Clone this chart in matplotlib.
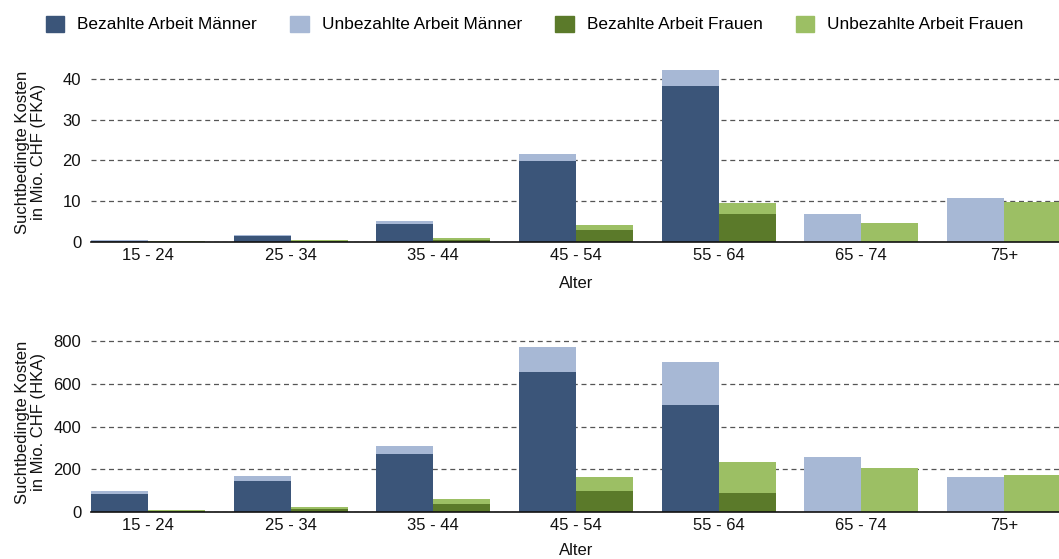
import matplotlib.pyplot as plt
from matplotlib.patches import Patch
import numpy as np

plt.rcParams['font.family'] = ['Liberation Sans', 'DejaVu Sans']

# Altersgruppen
alter = ["15 - 24", "25 - 34", "35 - 44", "45 - 54", "55 - 64", "65 - 74", "75+"]

# FKA (Mio. CHF)
fka_bez_m = [0.3, 1.4, 4.5, 19.8, 38.2, 0.0, 0.0]
fka_unbez_m = [0.15, 0.4, 0.6, 1.8, 3.8, 6.8, 10.8]
fka_bez_f = [0.1, 0.2, 0.6, 2.9, 6.8, 0.0, 0.0]
fka_unbez_f = [0.1, 0.2, 0.4, 1.2, 2.7, 4.75, 9.8]

# HKA (Mio. CHF)
hka_bez_m = [87, 148, 272, 656, 501, 0, 0]
hka_unbez_m = [14, 23, 39, 117, 199, 260, 165]
hka_bez_f = [7, 15, 40, 98, 90, 0, 0]
hka_unbez_f = [5, 10, 21, 68, 146, 207, 173]

col_bez_m = "#3b5579"
col_unbez_m = "#a7b8d5"
col_bez_f = "#5b7a2a"
col_unbez_f = "#9cbf64"

fs = 12

fig = plt.figure(figsize=(10.59, 5.59), dpi=100)
ax1 = fig.add_axes([0.0859, 0.567, 0.916, 0.3215])
ax2 = fig.add_axes([0.0859, 0.0835, 0.916, 0.322])

x = np.arange(len(alter))
w = 0.4


def draw(ax, bm, um, bf, uf, ymax, yticks, ylabel, xpad):
    ax.bar(x - w / 2, bm, w, color=col_bez_m, linewidth=0)
    ax.bar(x - w / 2, um, w, bottom=bm, color=col_unbez_m, linewidth=0)
    ax.bar(x + w / 2, bf, w, color=col_bez_f, linewidth=0)
    ax.bar(x + w / 2, uf, w, bottom=bf, color=col_unbez_f, linewidth=0)
    ax.set_xlim(-0.4, len(alter) - 0.6)
    ax.set_ylim(0, ymax)
    ax.set_yticks(yticks)
    ax.set_xticks(x)
    ax.set_xticklabels(alter)
    ax.set_axisbelow(True)
    ax.yaxis.grid(True, linestyle=(0, (4, 3)), color="#555555", linewidth=0.9)
    for s in ["top", "right", "left"]:
        ax.spines[s].set_visible(False)
    ax.spines["bottom"].set_color("#111111")
    ax.spines["bottom"].set_linewidth(1.2)
    ax.tick_params(axis="both", length=0, labelsize=fs, colors="#111111")
    ax.tick_params(axis="y", pad=7)
    ax.tick_params(axis="x", pad=4)
    ax.set_xlabel("Alter", fontsize=fs, labelpad=xpad, color="#111111")
    ax.set_ylabel(ylabel, fontsize=fs, color="#111111", linespacing=1.15)
    ax.yaxis.set_label_coords(-0.046, 0.5)


draw(ax1, fka_bez_m, fka_unbez_m, fka_bez_f, fka_unbez_f, 44, [0, 10, 20, 30, 40],
     "Suchtbedingte Kosten\nin Mio. CHF (FKA)", 10)
draw(ax2, hka_bez_m, hka_unbez_m, hka_bez_f, hka_unbez_f, 840, [0, 200, 400, 600, 800],
     "Suchtbedingte Kosten\nin Mio. CHF (HKA)", 7)

handles = [Patch(color=col_bez_m), Patch(color=col_unbez_m),
           Patch(color=col_bez_f), Patch(color=col_unbez_f)]
labels = ["Bezahlte Arbeit Männer", "Unbezahlte Arbeit Männer",
          "Bezahlte Arbeit Frauen", "Unbezahlte Arbeit Frauen"]
fig.legend(handles, labels, loc="center", bbox_to_anchor=(0.505, 0.957), ncol=4,
           frameon=False, fontsize=12.4, handlelength=1.05, handleheight=1.05,
           handletextpad=0.76, columnspacing=1.95, borderaxespad=0)

fig.savefig("out.png", dpi=100)
